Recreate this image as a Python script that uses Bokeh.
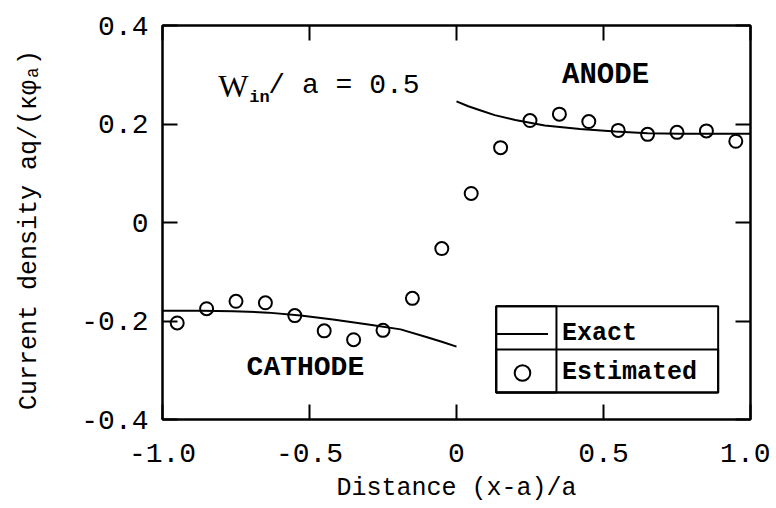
from bokeh.plotting import figure
from bokeh.models import (LinearAxis, FixedTicker, Legend, LegendItem,
                          BoxAnnotation, Label, Range1d)
from bokeh.embed import file_html
from bokeh.resources import INLINE

# ---------------- data ----------------
x_est = [-0.95, -0.85, -0.75, -0.65, -0.55, -0.45, -0.35, -0.25, -0.15, -0.05,
         0.05, 0.15, 0.25, 0.35, 0.45, 0.55, 0.65, 0.75, 0.85, 0.95]
y_est = [-0.204, -0.175, -0.160, -0.163, -0.189, -0.220, -0.238, -0.219, -0.154, -0.053,
         0.059, 0.152, 0.207, 0.220, 0.205, 0.187, 0.179, 0.183, 0.186, 0.165]

x_cathode = [-1.0, -0.87, -0.76, -0.64, -0.53, -0.42, -0.30, -0.19, -0.10, -0.05, 0.0]
y_cathode = [-0.179, -0.179, -0.180, -0.183, -0.189, -0.197, -0.207, -0.217, -0.233, -0.242, -0.252]

x_anode = [0.0, 0.04, 0.08, 0.13, 0.20, 0.30, 0.42, 0.54, 0.65, 0.76, 0.88, 1.0]
y_anode = [0.246, 0.236, 0.228, 0.218, 0.208, 0.197, 0.190, 0.185, 0.181, 0.180, 0.180, 0.180]

x_ticks = [-1.0, -0.5, 0.0, 0.5, 1.0]
x_tick_labels = ["-1.0", "-0.5", "0", "0.5", "1.0"]
y_ticks = [-0.4, -0.2, 0.0, 0.2, 0.4]
y_tick_labels = ["-0.4", "-0.2", "0", "0.2", "0.4"]

# ---------------- layout ----------------
W, H = 770, 506
BL, BR, BT, BB = 162, 20, 25, 87
FW, FH = W - BL - BR, H - BT - BB
XMIN, XMAX, YMIN, YMAX = -1.0, 1.0, -0.4, 0.4

MONO = "Liberation Mono"
SERIF = "Liberation Serif"

p = figure(width=W, height=H, x_range=Range1d(XMIN, XMAX), y_range=Range1d(YMIN, YMAX),
           output_backend="svg", toolbar_location=None,
           min_border_left=BL, min_border_right=BR, min_border_top=BT, min_border_bottom=BB)
p.xgrid.visible = False
p.ygrid.visible = False
p.background_fill_color = "white"
p.border_fill_color = "white"
p.outline_line_color = "black"
p.outline_line_width = 2
p.outline_line_alpha = 1


def style_axis(ax, ticks, labels, show_labels):
    ax.ticker = FixedTicker(ticks=ticks)
    ax.major_tick_in = 15
    ax.major_tick_out = 0
    ax.minor_tick_in = 0
    ax.minor_tick_out = 0
    ax.major_tick_line_width = 2
    ax.major_tick_line_color = "black"
    ax.axis_line_width = 2
    ax.axis_line_color = "black"
    if show_labels:
        ax.major_label_overrides = dict(zip(ticks, labels))
        ax.major_label_text_font = MONO
        ax.major_label_text_font_size = "28px"
        ax.major_label_text_color = "black"
    else:
        ax.major_label_overrides = {t: "" for t in ticks}
        ax.major_label_text_font_size = "0px"
        ax.major_label_standoff = 0


xb = p.xaxis[0]
yl = p.yaxis[0]
style_axis(xb, x_ticks, x_tick_labels, True)
style_axis(yl, y_ticks, y_tick_labels, True)
xb.major_label_standoff = 24
yl.major_label_standoff = 14
xb.axis_label = "Distance (x-a)/a"
yl.axis_label = "Current density  aq/(κφₐ)"
for ax in (xb, yl):
    ax.axis_label_text_font = MONO
    ax.axis_label_text_font_size = "25px"
    ax.axis_label_text_font_style = "normal"
    ax.axis_label_text_color = "black"
xb.axis_label_standoff = 9
yl.axis_label_standoff = 34

xt = LinearAxis()
yr = LinearAxis()
style_axis(xt, x_ticks, x_tick_labels, False)
style_axis(yr, y_ticks, y_tick_labels, False)
p.add_layout(xt, "above")
p.add_layout(yr, "right")

# ---------------- data marks ----------------
r_c = p.line(x_cathode, y_cathode, line_color="black", line_width=2)
r_a = p.line(x_anode, y_anode, line_color="black", line_width=2)
r_e = p.scatter(x_est, y_est, marker="circle", size=13, fill_color=None,
                line_color="black", line_width=2)

# ---------------- legend (table-like box) ----------------
LX0, LXDIV, LX1 = 0.135, 0.34, 0.89
LY0, LYMID, LY1 = -0.345, -0.258, -0.17
px_per_x = FW / (XMAX - XMIN)
px_per_y = FH / (YMAX - YMIN)
leg_left = (LX0 - XMIN) * px_per_x
leg_bottom = (LY0 - YMIN) * px_per_y
leg_w = (LX1 - LX0) * px_per_x
leg_h = (LY1 - LY0) * px_per_y
col_w = (LXDIV - LX0) * px_per_x
pad = 4
row_h = int(round((leg_h - 2 * pad) / 2))
gw = int(round(col_w - 2 * pad))
standoff = 2 * pad + 6
lw = int(round(leg_w - 2 * pad - gw - standoff))

legend = Legend(items=[LegendItem(label="Exact", renderers=[r_a]),
                       LegendItem(label="Estimated", renderers=[r_e])],
                location=(int(round(leg_left)), int(round(leg_bottom))),
                padding=pad, spacing=0, margin=0,
                glyph_width=gw, glyph_height=row_h, label_height=row_h,
                label_width=lw, label_standoff=standoff,
                label_text_font=MONO, label_text_font_size="25px",
                label_text_font_style="bold", label_text_color="black",
                border_line_color=None, background_fill_alpha=0)
p.add_layout(legend, "center")

for (l, r, b, t) in [(LX0, LX1, LY0, LY1), (LX0, LXDIV, LY0, LY1), (LX0, LX1, LY0, LYMID)]:
    p.add_layout(BoxAnnotation(left=l, right=r, bottom=b, top=t,
                               fill_alpha=0, line_color="black", line_width=2, line_alpha=1))

# ---------------- text annotations ----------------
p.add_layout(Label(x=-0.81, y=0.278, text="W", text_font=SERIF, text_font_size="32px",
                   text_baseline="alphabetic", text_color="black"))
p.add_layout(Label(x=-0.705, y=0.254, text="in", text_font=MONO, text_font_size="17px",
                   text_font_style="bold", text_baseline="alphabetic", text_color="black"))
p.add_layout(Label(x=-0.64, y=0.278, text="/ a = 0.5", text_font=MONO, text_font_size="28px",
                   text_baseline="alphabetic", text_color="black"))
p.add_layout(Label(x=0.507, y=0.298, text="ANODE", text_font=MONO, text_font_size="29px",
                   text_font_style="bold", text_align="center", text_baseline="middle",
                   text_color="black"))
p.add_layout(Label(x=-0.514, y=-0.294, text="CATHODE", text_font=MONO, text_font_size="28px",
                   text_font_style="bold", text_align="center", text_baseline="middle",
                   text_color="black"))

open("out.html", "w").write(file_html(p, INLINE))
